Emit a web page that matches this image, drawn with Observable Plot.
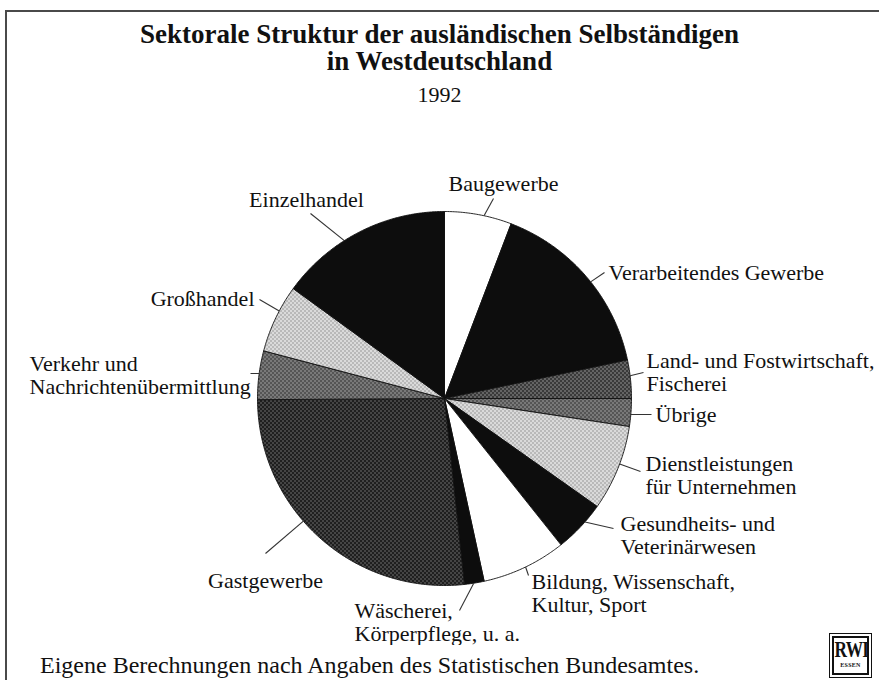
<!DOCTYPE html>
<html><head><meta charset="utf-8">
<script src="https://cdn.jsdelivr.net/npm/d3@7"></script>
<script src="https://cdn.jsdelivr.net/npm/@observablehq/plot@0.6"></script>
<style>
body{margin:0;background:#fff;overflow:hidden;}
#wrap{position:relative;width:879px;height:680px;overflow:hidden;font-family:"Liberation Serif","Times New Roman",serif;color:#111;}
#frame{position:absolute;left:5px;top:10px;width:900px;height:700px;border:2px solid #4a4a4a;box-sizing:border-box;}
#title{position:absolute;top:21px;left:0;width:879px;text-align:center;font-weight:bold;font-size:27px;line-height:27px;}
#year{position:absolute;top:84px;left:0;width:879px;text-align:center;font-size:22px;line-height:22px;}
#chart{position:absolute;top:110px;left:0;}
#caption{position:absolute;left:40px;top:652px;font-size:24px;line-height:26px;white-space:nowrap;}
#logo{position:absolute;left:829px;top:633px;width:43px;height:45px;border:1px solid #111;box-sizing:border-box;padding:2px;}
#logo .in{border:2px solid #111;width:100%;height:100%;box-sizing:border-box;text-align:center;overflow:hidden;}
#logo .rwi{display:inline-block;font-weight:bold;font-size:24px;line-height:23px;letter-spacing:-1px;transform:scaleX(0.72);transform-origin:center;margin-left:-6px;margin-right:-6px;}
#logo .es{font-size:6px;font-weight:bold;line-height:8px;letter-spacing:0.3px;}
</style>
</head><body>
<svg width="0" height="0" style="position:absolute">
  <defs>
    <pattern id="pDark" width="4" height="4" patternUnits="userSpaceOnUse">
      <rect width="4" height="4" fill="#1f1f1f"/>
      <rect x="0" y="0" width="1" height="1" fill="#b8b8b8"/>
      <rect x="2" y="2" width="1" height="1" fill="#b8b8b8"/>
    </pattern>
    <pattern id="pMedDark" width="4" height="4" patternUnits="userSpaceOnUse">
      <rect width="4" height="4" fill="#3a3a3a"/>
      <rect x="0" y="0" width="1" height="1" fill="#e0e0e0"/>
      <rect x="2" y="2" width="1" height="1" fill="#e0e0e0"/>
    </pattern>
    <pattern id="pMed" width="4" height="4" patternUnits="userSpaceOnUse">
      <rect width="4" height="4" fill="#555"/>
      <rect x="0" y="0" width="1" height="1" fill="#e6e6e6"/>
      <rect x="2" y="2" width="1" height="1" fill="#e6e6e6"/>
    </pattern>
    <pattern id="pLight" width="4" height="4" patternUnits="userSpaceOnUse">
      <rect width="4" height="4" fill="#dadada"/>
      <rect x="0" y="0" width="1" height="1" fill="#555"/>
      <rect x="2" y="2" width="1" height="1" fill="#555"/>
    </pattern>
  </defs>
</svg>
<div id="wrap">
  <div id="frame"></div>
  <div id="title">Sektorale Struktur der ausländischen Selbständigen<br>in Westdeutschland</div>
  <div id="year">1992</div>
  <div id="chart"></div>
  <div id="caption">Eigene Berechnungen nach Angaben des Statistischen Bundesamtes.</div>
  <div id="logo"><div class="in"><div class="rwi">RWI</div><div class="es">ESSEN</div></div></div>
</div>
<script>
// ---- data (clockwise from 12 o'clock), shares in percent ----
const sectors = [
  "Baugewerbe",
  "Verarbeitendes Gewerbe",
  "Land- und Forstwirtschaft, Fischerei",
  "Übrige",
  "Dienstleistungen für Unternehmen",
  "Gesundheits- und Veterinärwesen",
  "Bildung, Wissenschaft, Kultur, Sport",
  "Wäscherei, Körperpflege, u. a.",
  "Gastgewerbe",
  "Verkehr und Nachrichtenübermittlung",
  "Großhandel",
  "Einzelhandel"
];
const shares = [5.8, 15.9, 3.3, 2.4, 7.4, 4.5, 7.3, 1.7, 26.6, 4.2, 5.9, 15.0];
const labelTexts = [
  "Baugewerbe",
  "Verarbeitendes Gewerbe",
  "Land- und Fostwirtschaft,\nFischerei",
  "Übrige",
  "Dienstleistungen\nfür Unternehmen",
  "Gesundheits- und\nVeterinärwesen",
  "Bildung, Wissenschaft,\nKultur, Sport",
  "Wäscherei,\nKörperpflege, u. a.",
  "Gastgewerbe",
  "Verkehr und\nNachrichtenübermittlung",
  "Großhandel",
  "Einzelhandel"
];

// ---- styles ----
const sliceFills = [
  "#ffffff", "#0d0d0d", "url(#pMedDark)", "url(#pMed)", "url(#pLight)", "#0d0d0d",
  "#ffffff", "#0d0d0d", "url(#pDark)", "url(#pMed)", "url(#pLight)", "#0d0d0d"
];

// ---- layout (page pixels): leader start angle, leader end, text position, anchor ----
const CX = 444, CY = 398, R = 187, TOP = 110;
const layout = [
  {a: 12.2,  ex: 493, ey: 198, tx: 503, ty: 183, anchor: "middle"},
  {a: 51.4,  ex: 604, ey: 272, tx: 608, ty: 272, anchor: "start"},
  {a: 83,    ex: 643, ey: 372, tx: 646, ty: 372, anchor: "start"},
  {a: 94.9,  ex: 651, ey: 414, tx: 655, ty: 414, anchor: "start"},
  {a: 110.5, ex: 640, ey: 471, tx: 645, ty: 475, anchor: "start"},
  {a: 131.3, ex: 613, ey: 528, tx: 620, ty: 535, anchor: "start"},
  {a: 154.3, ex: 528, ey: 575, tx: 531, ty: 593, anchor: "start"},
  {a: 171,   ex: 459, ey: 610, tx: 354, ty: 622, anchor: "start"},
  {a: 229,   ex: 265, ey: 553, tx: 265, ty: 580, anchor: "middle"},
  {a: 277.7, ex: 250, ey: 373, tx: 29,  ty: 375, anchor: "start"},
  {a: 297.9, ex: 259, ey: 299, tx: 254, ty: 298, anchor: "end"},
  {a: 327.6, ex: 310, ey: 213, tx: 306, ty: 199, anchor: "middle"}
];
const ux = px => (px - CX) / R;
const uy = py => (CY - py) / R;

// ---- build slice outlines from the data via d3.pie ----
const arcs = d3.pie().sort(null).value(d => d)(shares);
const slicePts = [];
arcs.forEach((arc, i) => {
  const n = Math.max(2, Math.ceil((arc.endAngle - arc.startAngle) / (Math.PI / 360)));
  slicePts.push({s: sectors[i], x: 0, y: 0});
  for (let k = 0; k <= n; k++) {
    const t = arc.startAngle + (arc.endAngle - arc.startAngle) * k / n;
    slicePts.push({s: sectors[i], x: Math.sin(t), y: Math.cos(t)});
  }
  slicePts.push({s: sectors[i], x: 0, y: 0});
});

const leaders = layout.map((L, i) => {
  const t = L.a * Math.PI / 180;
  return {s: sectors[i], x1: Math.sin(t), y1: Math.cos(t), x2: ux(L.ex), y2: uy(L.ey)};
});
const labels = layout.map((L, i) => ({text: labelTexts[i], x: ux(L.tx), y: uy(L.ty), anchor: L.anchor}));

const fs = 22;
const sliceMarks = sectors.map((s, i) =>
  Plot.line(slicePts.filter(d => d.s === s), {x: "x", y: "y", fill: sliceFills[i], stroke: "#111", strokeWidth: 0.9, strokeLinejoin: "round"})
);
const textMarks = ["start", "middle", "end"].map(anchor =>
  Plot.text(labels.filter(d => d.anchor === anchor), {x: "x", y: "y", text: "text", textAnchor: anchor, fontSize: fs, lineHeight: 23 / fs, fill: "#111"})
);

const plot = Plot.plot({
  width: 879,
  height: 535,
  margin: 0,
  x: {domain: [-1, 1], range: [CX - R, CX + R], axis: null},
  y: {domain: [-1, 1], range: [CY - TOP + R, CY - TOP - R], axis: null},
  style: {fontFamily: "'Liberation Serif', 'Times New Roman', serif", background: "transparent", color: "#111"},
  marks: [
    ...sliceMarks,
    Plot.link(leaders, {x1: "x1", y1: "y1", x2: "x2", y2: "y2", stroke: "#333", strokeWidth: 1.1}),
    ...textMarks
  ]
});
document.getElementById("chart").appendChild(plot);
</script>
</body></html>
